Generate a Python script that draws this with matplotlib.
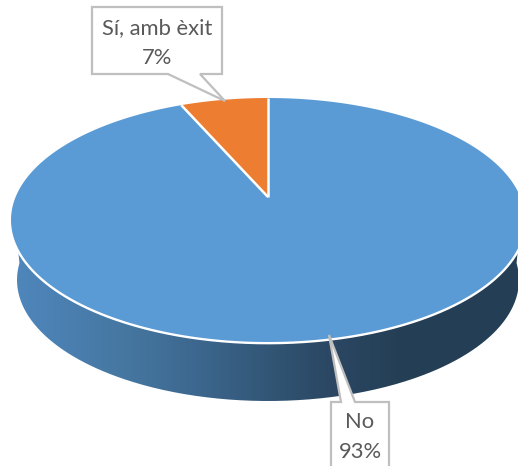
import numpy as np
import matplotlib
matplotlib.use("Agg")
import matplotlib.pyplot as plt
from matplotlib.colors import LinearSegmentedColormap
from matplotlib.patches import PathPatch
from matplotlib.path import Path

labels = ["Sí, amb èxit", "No"]
values = [6.6, 93.4]
colors = ["#ED7D31", "#5B9BD5"]


# Maps pie angle (clockwise from 12 o'clock, degrees) on to the tilted top
# of the pie. The apex sits above the ellipse centre because of perspective.
def TopPoint(angle, r=1.0, cx=268.0, cy=220.0, a=257.0, b=122.0, apex=23.0):
    t = np.radians(angle)
    u = r*np.sin(t)
    v = r*np.cos(t)
    k = apex/b
    w = 1 + k*v
    x = cx + a*np.sqrt(1 - k*k)*u/w
    y = cy - (apex + b*v)/w
    return x, y


# Ellipse arc of the bottom edge of the pie
def BottomPoint(t, cx=268.0, cy=280.0, a=251.0, b=121.0):
    return cx + a*np.sin(t), cy - b*np.cos(t)


fig = plt.figure(figsize=(5.18, 4.66), dpi=100)
ax = fig.add_axes([0, 0, 1, 1])
ax.set_xlim(0, 518)
ax.set_ylim(466, 0)
ax.axis("off")

# Side wall with horizontal gradient
rim = np.radians(np.linspace(82, 278, 300))
sx = 268 + 257*np.sin(rim)
sy = 220 - 122*np.cos(rim)
bx, by = BottomPoint(rim[::-1])
wall = np.column_stack([np.r_[sx, bx], np.r_[sy, by]])

shade = LinearSegmentedColormap.from_list("side", [
    (0.00, "#4F87BC"), (0.095, "#4B80B2"), (0.23, "#45769F"),
    (0.37, "#3C668D"), (0.50, "#325676"), (0.62, "#2B4763"),
    (0.76, "#243F55"), (1.00, "#243F55")])
im = ax.imshow(np.linspace(0, 1, 256)[None, :], cmap=shade, aspect="auto",
               extent=[11, 525, 466, 0], zorder=1)
im.set_clip_path(PathPatch(Path(wall), transform=ax.transData))
ax.set_xlim(0, 518)
ax.set_ylim(466, 0)

# White rim on the front edge, half of it is covered by the top
ax.plot(sx, sy, color="white", lw=3.4, zorder=2)

# Top of the pie, drawn from the slice values
start = 0.0
for val, col in zip(values, colors):
    sweep = 360.0*val/sum(values)
    ang = np.linspace(-start, -start - sweep, 300)
    px, py = TopPoint(ang)
    ax0, ay0 = TopPoint(0.0, r=0.0)
    ax.fill(np.r_[ax0, px], np.r_[ay0, py], color=col, lw=0, zorder=3)
    start += sweep

# White lines between the slices
ax0, ay0 = TopPoint(0.0, r=0.0)
for ang in [0.0, -360.0*values[0]/sum(values)]:
    ex, ey = TopPoint(ang)
    ax.plot([ax0, ex], [ay0, ey], color="white", lw=1.8, zorder=4,
            solid_capstyle="butt")

# Callout labels
edge = "#BFBFBF"
box1 = [(92, 7), (222, 7), (222, 74), (200, 74), (225, 101), (168, 74), (92, 74)]
box2 = [(331, 480), (331, 402), (341, 402), (329, 335), (355, 402), (389, 402),
        (389, 480)]
for pts in [box1, box2]:
    ax.fill(*zip(*pts), facecolor="white", edgecolor=edge, lw=1.6, zorder=5,
            joinstyle="miter")

font = {"family": "Lato", "color": "#595959", "fontsize": 15.8,
        "ha": "center", "va": "center", "zorder": 6}
ax.text(157, 28, labels[0], **font)
ax.text(157, 58, "%.0f%%" % values[0], **font)
ax.text(360, 422, labels[1], **font)
ax.text(360, 452, "%.0f%%" % values[1], **font)

fig.savefig("out.png", dpi=100)
